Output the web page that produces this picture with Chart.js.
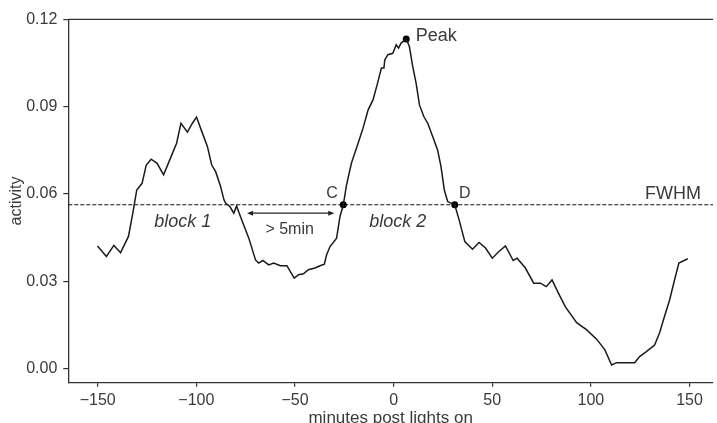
<!DOCTYPE html>
<html>
<head>
<meta charset="utf-8">
<script src="https://cdn.jsdelivr.net/npm/chart.js@4.4.1/dist/chart.umd.min.js"></script>
<style>
  html, body { margin: 0; padding: 0; background: #fff; overflow: hidden; }
  #wrap { width: 717px; height: 430px; }
</style>
</head>
<body>
<div id="wrap"><canvas id="fwhmChart" width="717" height="430"></canvas></div>
<script>
// activity trace
const minutes = [
  -150.1, -145.6, -141.8, -138.4, -134.4, -132.2, -130.2, -127.5, -125.4, -122.9,
  -119.9, -116.6, -112.8, -110.0, -107.8, -104.5, -102.0, -99.9, -97.2, -94.4,
  -92.2, -90.2, -87.7, -86.0, -85.1, -83.0, -81.0, -79.6, -77.6, -73.4,
  -70.0, -68.4, -66.3, -63.3, -60.8, -57.4, -54.1, -50.4, -48.2, -45.7,
  -43.2, -39.8, -37.3, -35.1, -34.0, -32.2, -28.9, -27.2, -25.5, -23.9,
  -21.4, -18.0, -15.5, -12.9, -10.4, -7.9, -6.2, -4.9, -4.5, -2.9,
  -0.4, 1.3, 2.5, 3.8, 6.4, 8.0, 9.7, 11.4, 13.1, 15.3,
  17.3, 19.8, 22.3, 24.0, 25.7, 27.4, 31.0, 33.2, 36.1, 40.0,
  43.3, 46.6, 50.0, 53.4, 56.7, 60.6, 62.6, 66.8, 71.0, 74.4,
  77.4, 80.3, 83.6, 87.0, 92.8, 97.9, 102.9, 107.1, 110.5, 113.0,
  122.2, 124.7, 128.1, 132.3, 134.8, 137.3, 139.9, 142.4, 144.6, 149.1
];
const activity = [
  0.0421, 0.0385, 0.0423, 0.0398, 0.0454, 0.0534, 0.0614, 0.0637, 0.0700, 0.0720,
  0.0706, 0.0666, 0.0729, 0.0775, 0.0844, 0.0813, 0.0844, 0.0865, 0.0815, 0.0764,
  0.0700, 0.0677, 0.0626, 0.0580, 0.0568, 0.0557, 0.0534, 0.0559, 0.0522, 0.0448,
  0.0373, 0.0362, 0.0371, 0.0356, 0.0362, 0.0353, 0.0353, 0.0310, 0.0322, 0.0325,
  0.0339, 0.0345, 0.0353, 0.0358, 0.0390, 0.0419, 0.0448, 0.0522, 0.0563, 0.0630,
  0.0706, 0.0775, 0.0827, 0.0890, 0.0925, 0.0988, 0.1034, 0.1034, 0.1062, 0.1080,
  0.1085, 0.1114, 0.1103, 0.1120, 0.1134, 0.1108, 0.1039, 0.0982, 0.0907, 0.0867,
  0.0844, 0.0798, 0.0752, 0.0695, 0.0614, 0.0574, 0.0563, 0.0511, 0.0436, 0.0410,
  0.0433, 0.0414, 0.0379, 0.0402, 0.0421, 0.0371, 0.0379, 0.0345, 0.0293, 0.0293,
  0.0281, 0.0304, 0.0258, 0.0212, 0.0157, 0.0132, 0.0100, 0.0063, 0.0011, 0.0019,
  0.0019, 0.0040, 0.0057, 0.0080, 0.0121, 0.0178, 0.0235, 0.0304, 0.0362, 0.0377
];

// marked points: C, Peak, D
const markerNames = ['C', 'Peak', 'D'];
const markerMinutes = [-25.5, 6.4, 31.0];
const markerActivity = [0.0563, 0.1134, 0.0563];
const fwhmLevel = 0.0563;

// gap between blocks (minutes)
const gapStart = -74.3;
const gapEnd = -30.1;
const gapLevel = 0.0534;

const xTicks = [-150, -100, -50, 0, 50, 100, 150];
const yTicks = [0.00, 0.03, 0.06, 0.09, 0.12];

const textColor = '#3a3a3a';
const axisColor = '#333';
const fontFamily = "'Liberation Sans', Arial, sans-serif";

// text labels placed in data coordinates
const notes = [
  { text: 'Peak', x: 11.2, y: 0.1126, size: 18, italic: false, align: 'left' },
  { text: 'C', x: -34.1, y: 0.0586, size: 16, italic: false, align: 'left' },
  { text: 'D', x: 33.2, y: 0.0586, size: 16, italic: false, align: 'left' },
  { text: 'FWHM', x: 155.8, y: 0.0584, size: 18, italic: false, align: 'right' },
  { text: 'block 1', x: -121.3, y: 0.0488, size: 18, italic: true, align: 'left' },
  { text: 'block 2', x: -12.4, y: 0.0488, size: 18, italic: true, align: 'left' },
  { text: '> 5min', x: -65.0, y: 0.0463, size: 16, italic: false, align: 'left' }
];

const annotatePlugin = {
  id: 'annotate',
  beforeDatasetsDraw(chart) {
    const { ctx, chartArea, scales } = chart;
    const yp = scales.y.getPixelForValue(fwhmLevel);
    ctx.save();
    ctx.strokeStyle = '#111';
    ctx.lineWidth = 1.2;
    ctx.setLineDash([4, 2]);
    ctx.beginPath();
    ctx.moveTo(chartArea.left, yp);
    ctx.lineTo(chartArea.right, yp);
    ctx.stroke();
    ctx.restore();
  },
  afterDatasetsDraw(chart) {
    const { ctx, chartArea, scales } = chart;
    const x = scales.x, y = scales.y;
    ctx.save();
    // top spine
    ctx.strokeStyle = axisColor;
    ctx.lineWidth = 1.3;
    ctx.beginPath();
    ctx.moveTo(chartArea.left, chartArea.top);
    ctx.lineTo(chartArea.right, chartArea.top);
    ctx.stroke();

    // double arrow between blocks
    const x0 = x.getPixelForValue(gapStart);
    const x1 = x.getPixelForValue(gapEnd);
    const ay = y.getPixelForValue(gapLevel);
    ctx.strokeStyle = '#222';
    ctx.fillStyle = '#222';
    ctx.lineWidth = 1.3;
    ctx.beginPath();
    ctx.moveTo(x0 + 2, ay);
    ctx.lineTo(x1 - 2, ay);
    ctx.stroke();
    ctx.beginPath();
    ctx.moveTo(x0, ay); ctx.lineTo(x0 + 6, ay - 2.5); ctx.lineTo(x0 + 6, ay + 2.5);
    ctx.closePath(); ctx.fill();
    ctx.beginPath();
    ctx.moveTo(x1, ay); ctx.lineTo(x1 - 6, ay - 2.5); ctx.lineTo(x1 - 6, ay + 2.5);
    ctx.closePath(); ctx.fill();

    // text
    ctx.fillStyle = textColor;
    ctx.textBaseline = 'alphabetic';
    notes.forEach(n => {
      ctx.font = (n.italic ? 'italic ' : '') + n.size + 'px ' + fontFamily;
      ctx.textAlign = n.align;
      ctx.fillText(n.text, x.getPixelForValue(n.x), y.getPixelForValue(n.y));
    });
    ctx.restore();
  }
};

const fwhmChart = new Chart(document.getElementById('fwhmChart'), {
  type: 'scatter',
  data: {
    datasets: [{
      label: 'activity',
      data: minutes.map((m, i) => ({ x: m, y: activity[i] })),
      showLine: true,
      borderColor: '#1a1a1a',
      borderWidth: 1.5,
      pointRadius: 0,
      tension: 0
    }, {
      label: 'points',
      data: markerMinutes.map((m, i) => ({ x: m, y: markerActivity[i], name: markerNames[i] })),
      showLine: false,
      pointRadius: 3.5,
      pointBackgroundColor: '#000',
      pointBorderWidth: 0
    }]
  },
  options: {
    responsive: false,
    animation: false,
    devicePixelRatio: 1,
    layout: { padding: { top: 19.3, right: 0, left: 0, bottom: 0 } },
    plugins: {
      legend: { display: false },
      tooltip: { enabled: false }
    },
    scales: {
      x: {
        type: 'linear',
        min: -164.9,
        max: 161.9,
        afterBuildTicks: (scale) => { scale.ticks = xTicks.map(v => ({ value: v })); },
        afterFit: (scale) => { scale.height = 47.3; },
        grid: { drawOnChartArea: false, drawTicks: true, tickLength: 4, color: axisColor, lineWidth: 1.2 },
        border: { display: true, color: axisColor, width: 1.3 },
        ticks: {
          color: textColor,
          padding: 4.5,
          maxRotation: 0,
          font: { family: fontFamily, size: 16 },
          callback: (v) => v < 0 ? '\u2212' + Math.abs(v) : String(v)
        },
        title: {
          display: true,
          text: 'minutes post lights on',
          color: textColor,
          font: { family: fontFamily, size: 17 },
          padding: { top: 0, bottom: 1.5 }
        }
      },
      y: {
        type: 'linear',
        min: -0.005,
        max: 0.1202,
        afterBuildTicks: (scale) => { scale.ticks = yTicks.map(v => ({ value: v })); },
        afterFit: (scale) => { scale.width = 68.3; },
        grid: { drawOnChartArea: false, drawTicks: true, tickLength: 5, color: axisColor, lineWidth: 1.2 },
        border: { display: true, color: axisColor, width: 1.3 },
        ticks: {
          color: textColor,
          padding: 6,
          font: { family: fontFamily, size: 16 },
          callback: (v) => Number(v).toFixed(2)
        },
        title: {
          display: true,
          text: 'activity',
          color: textColor,
          font: { family: fontFamily, size: 16 },
          padding: { top: 7, bottom: 0 }
        }
      }
    }
  },
  plugins: [annotatePlugin]
});
</script>
</body>
</html>
